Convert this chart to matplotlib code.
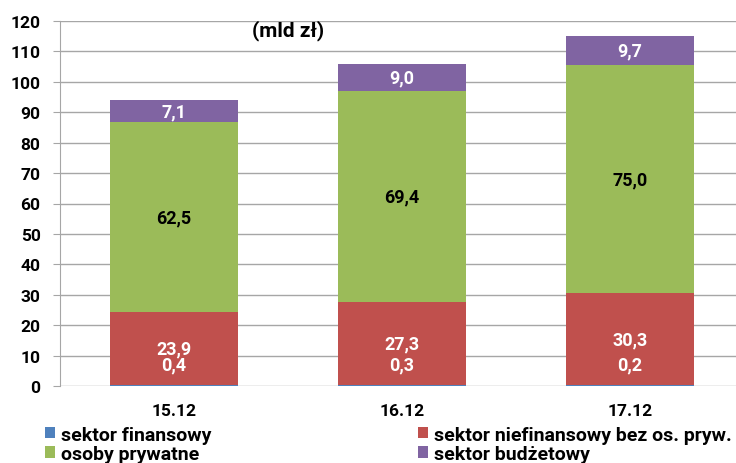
import matplotlib.pyplot as plt
import numpy as np

# Deposits by sector (mld zł)
periods = ["15.12", "16.12", "17.12"]
finansowy = [0.4, 0.3, 0.2]
niefinansowy = [23.9, 27.3, 30.3]
prywatne = [62.5, 69.4, 75.0]
budzetowy = [7.1, 9.0, 9.7]

series = [
    ("sektor finansowy", finansowy, "#4F81BD", "white"),
    ("sektor niefinansowy bez os. pryw.", niefinansowy, "#C0504D", "white"),
    ("osoby prywatne", prywatne, "#9BBB59", "black"),
    ("sektor budżetowy", budzetowy, "#8064A2", "white"),
]

plt.rcParams["font.family"] = ["Roboto", "DejaVu Sans"]
plt.rcParams["font.weight"] = "bold"

fig = plt.figure(figsize=(7.36, 4.64), dpi=100)
ax = fig.add_axes([60 / 736, 77 / 464, 684 / 736, 365 / 464])

x = np.arange(len(periods))
width = 0.56
bottom = np.zeros(len(periods))
handles = {}
for name, vals, color, tcolor in series:
    vals = np.array(vals)
    bars = ax.bar(x, vals, width, bottom=bottom, color=color, zorder=3)
    handles[name] = bars
    for xi, b, v in zip(x, bottom, vals):
        if name == "sektor finansowy":
            ypos = 7.0
        else:
            ypos = b + v / 2
        ax.text(xi, ypos, f"{v:.1f}".replace(".", ","), ha="center", va="center",
                color=tcolor, fontsize=13, fontweight="bold", zorder=4)
    bottom += vals

ax.set_xlim(-0.5, 2.5)
ax.set_ylim(0, 120)
ax.set_yticks(range(0, 121, 10))
ax.grid(axis="y", color="#A6A6A6", linewidth=1, zorder=0)
ax.tick_params(axis="y", length=5, color="#A6A6A6", labelsize=12.5, pad=9)
ax.tick_params(axis="x", length=0, labelsize=12.5, pad=12)
ax.set_xticks(x)
ax.set_xticklabels(periods)
for lab in ax.get_xticklabels() + ax.get_yticklabels():
    lab.set_fontweight("bold")
for side in ["top", "right", "bottom"]:
    ax.spines[side].set_visible(False)
ax.spines["left"].set_color("#A6A6A6")

ax.text(0.5, 117.3, "(mld zł)", ha="center", va="center", fontsize=15, fontweight="bold")

order = ["sektor finansowy", "osoby prywatne",
         "sektor niefinansowy bez os. pryw.", "sektor budżetowy"]
fig.legend([handles[n] for n in order], order, ncol=2, loc="lower left",
           bbox_to_anchor=(27 / 736, -0.037), frameon=False,
           prop={"size": 14, "weight": "bold"},
           handlelength=0.55, handleheight=0.55, handletextpad=0.3,
           columnspacing=10.6, labelspacing=0.06)

fig.savefig("out.png", dpi=100)
